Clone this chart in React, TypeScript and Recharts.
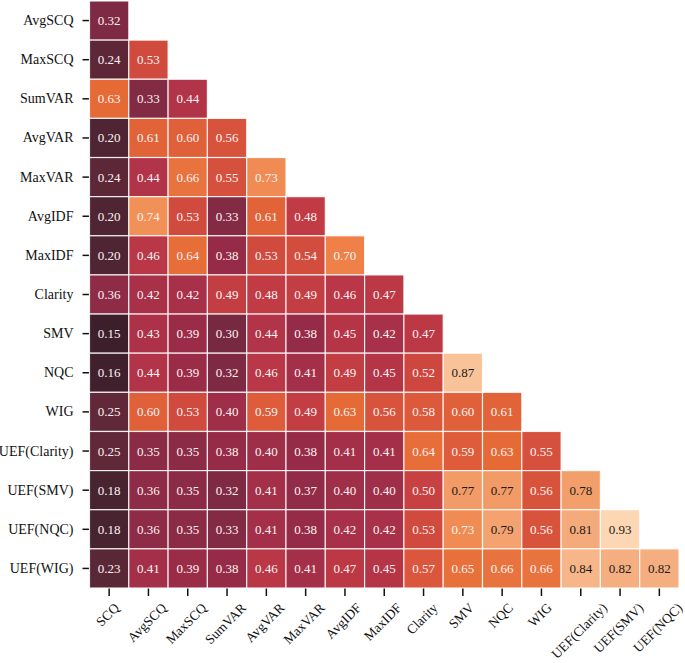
import { ScatterChart, Scatter, XAxis, YAxis } from 'recharts'

const cols = [
  'SCQ', 'AvgSCQ', 'MaxSCQ', 'SumVAR', 'AvgVAR', 'MaxVAR', 'AvgIDF', 'MaxIDF',
  'Clarity', 'SMV', 'NQC', 'WIG', 'UEF(Clarity)', 'UEF(SMV)', 'UEF(NQC)'
]

const rows = [
  'AvgSCQ', 'MaxSCQ', 'SumVAR', 'AvgVAR', 'MaxVAR', 'AvgIDF', 'MaxIDF', 'Clarity',
  'SMV', 'NQC', 'WIG', 'UEF(Clarity)', 'UEF(SMV)', 'UEF(NQC)', 'UEF(WIG)'
]

// lower triangle, row i has i + 1 values
const rowValues: number[][] = [
  [0.32],
  [0.24, 0.53],
  [0.63, 0.33, 0.44],
  [0.20, 0.61, 0.60, 0.56],
  [0.24, 0.44, 0.66, 0.55, 0.73],
  [0.20, 0.74, 0.53, 0.33, 0.61, 0.48],
  [0.20, 0.46, 0.64, 0.38, 0.53, 0.54, 0.70],
  [0.36, 0.42, 0.42, 0.49, 0.48, 0.49, 0.46, 0.47],
  [0.15, 0.43, 0.39, 0.30, 0.44, 0.38, 0.45, 0.42, 0.47],
  [0.16, 0.44, 0.39, 0.32, 0.46, 0.41, 0.49, 0.45, 0.52, 0.87],
  [0.25, 0.60, 0.53, 0.40, 0.59, 0.49, 0.63, 0.56, 0.58, 0.60, 0.61],
  [0.25, 0.35, 0.35, 0.38, 0.40, 0.38, 0.41, 0.41, 0.64, 0.59, 0.63, 0.55],
  [0.18, 0.36, 0.35, 0.32, 0.41, 0.37, 0.40, 0.40, 0.50, 0.77, 0.77, 0.56, 0.78],
  [0.18, 0.36, 0.35, 0.33, 0.41, 0.38, 0.42, 0.42, 0.53, 0.73, 0.79, 0.56, 0.81, 0.93],
  [0.23, 0.41, 0.39, 0.38, 0.46, 0.41, 0.47, 0.45, 0.57, 0.65, 0.66, 0.66, 0.84, 0.82, 0.82]
]

// rocket-like colour ramp
const colorStops: [number, string][] = [
  [0.15, '#3d1f2b'],
  [0.20, '#4f2533'],
  [0.25, '#612839'],
  [0.32, '#7f2a44'],
  [0.38, '#962b48'],
  [0.43, '#ad3249'],
  [0.47, '#bd3845'],
  [0.53, '#d04a3e'],
  [0.58, '#dc593b'],
  [0.63, '#e66a36'],
  [0.70, '#ee8048'],
  [0.74, '#f19057'],
  [0.78, '#f39f6b'],
  [0.82, '#f5ae80'],
  [0.87, '#f8c398'],
  [0.93, '#fdd6b3']
]

const hexToRgb = (h: string) => [1, 3, 5].map(i => parseInt(h.slice(i, i + 2), 16))

function cellColor(v: number) {
  if (v <= colorStops[0][0]) return colorStops[0][1]
  for (let i = 1; i < colorStops.length; i++) {
    const [v1, c1] = colorStops[i]
    if (v <= v1) {
      const [v0, c0] = colorStops[i - 1]
      const t = (v - v0) / (v1 - v0)
      const a = hexToRgb(c0)
      const b = hexToRgb(c1)
      return `rgb(${a.map((x, k) => Math.round(x + (b[k] - x) * t)).join(',')})`
    }
  }
  return colorStops[colorStops.length - 1][1]
}

const data = rows.flatMap((_, i) =>
  rowValues[i].map((v, j) => ({ x: j + 0.5, y: i + 0.5, v }))
)
const tickPos = cols.map((_, i) => i + 0.5)

const W = 685
const H = 663
const margin = { top: 1, right: 6, bottom: 0, left: 0 }
const yAxisW = 89.5
const xAxisH = 75
const cellW = (W - margin.left - margin.right - yAxisW) / cols.length
const cellH = (H - margin.top - margin.bottom - xAxisH) / rows.length
const FONT = "'Liberation Serif', 'DejaVu Serif', serif"
const XFS = 13.5

let ctx: CanvasRenderingContext2D | null = null
function textWidth(s: string) {
  if (!ctx) ctx = document.createElement('canvas').getContext('2d')
  if (!ctx) return s.length * 7
  ctx.font = `${XFS}px ${FONT}`
  return ctx.measureText(s).width
}

const CellShape = (props: any) => {
  const { cx, cy, payload } = props
  const v = payload.v
  return (
    <g>
      <rect
        x={cx - cellW / 2}
        y={cy - cellH / 2}
        width={cellW}
        height={cellH}
        fill={cellColor(v)}
        stroke="#ffffff"
        strokeOpacity={0.85}
        strokeWidth={1.2}
      />
      <text
        x={cx}
        y={cy}
        textAnchor="middle"
        dominantBaseline="central"
        fontSize={13}
        fontFamily={FONT}
        fill={v >= 0.76 ? '#1a1a1a' : '#fbf3f3'}
      >
        {v.toFixed(2)}
      </text>
    </g>
  )
}

// rotated label, its bounding box centred under the tick
const XTick = ({ x, y, payload }: any) => {
  const label = cols[Math.floor(payload.value)]
  const side = (textWidth(label) + 7) * Math.SQRT1_2
  const cx = x - 1.5
  const cy = y - 3 + side / 2
  return (
    <text
      x={cx}
      y={cy}
      textAnchor="middle"
      dominantBaseline="central"
      transform={`rotate(-45, ${cx}, ${cy})`}
      fontSize={XFS}
      fontFamily={FONT}
      fill="#111"
    >
      {label}
    </text>
  )
}

const YTick = ({ x, y, payload }: any) => (
  <text
    x={x}
    y={y}
    textAnchor="end"
    dominantBaseline="central"
    fontSize={14}
    fontFamily={FONT}
    fill="#111"
  >
    {rows[Math.floor(payload.value)]}
  </text>
)

export default function App() {
  return (
    <div style={{ position: 'absolute', left: 0, top: 0, background: '#fff', fontFamily: FONT }}>
      <ScatterChart width={W} height={H} margin={margin}>
        <XAxis
          type="number"
          dataKey="x"
          domain={[0, cols.length]}
          ticks={tickPos}
          interval={0}
          height={xAxisH}
          axisLine={false}
          tickLine={{ stroke: '#111', strokeWidth: 1.5 }}
          tickSize={8}
          tickMargin={10}
          tick={<XTick />}
        />
        <YAxis
          type="number"
          dataKey="y"
          domain={[0, rows.length]}
          reversed
          ticks={tickPos}
          interval={0}
          width={yAxisW}
          axisLine={false}
          tickLine={{ stroke: '#111', strokeWidth: 1.5 }}
          tickSize={7}
          tickMargin={9}
          tick={<YTick />}
        />
        <Scatter data={data} shape={<CellShape />} isAnimationActive={false} />
      </ScatterChart>
    </div>
  )
}
